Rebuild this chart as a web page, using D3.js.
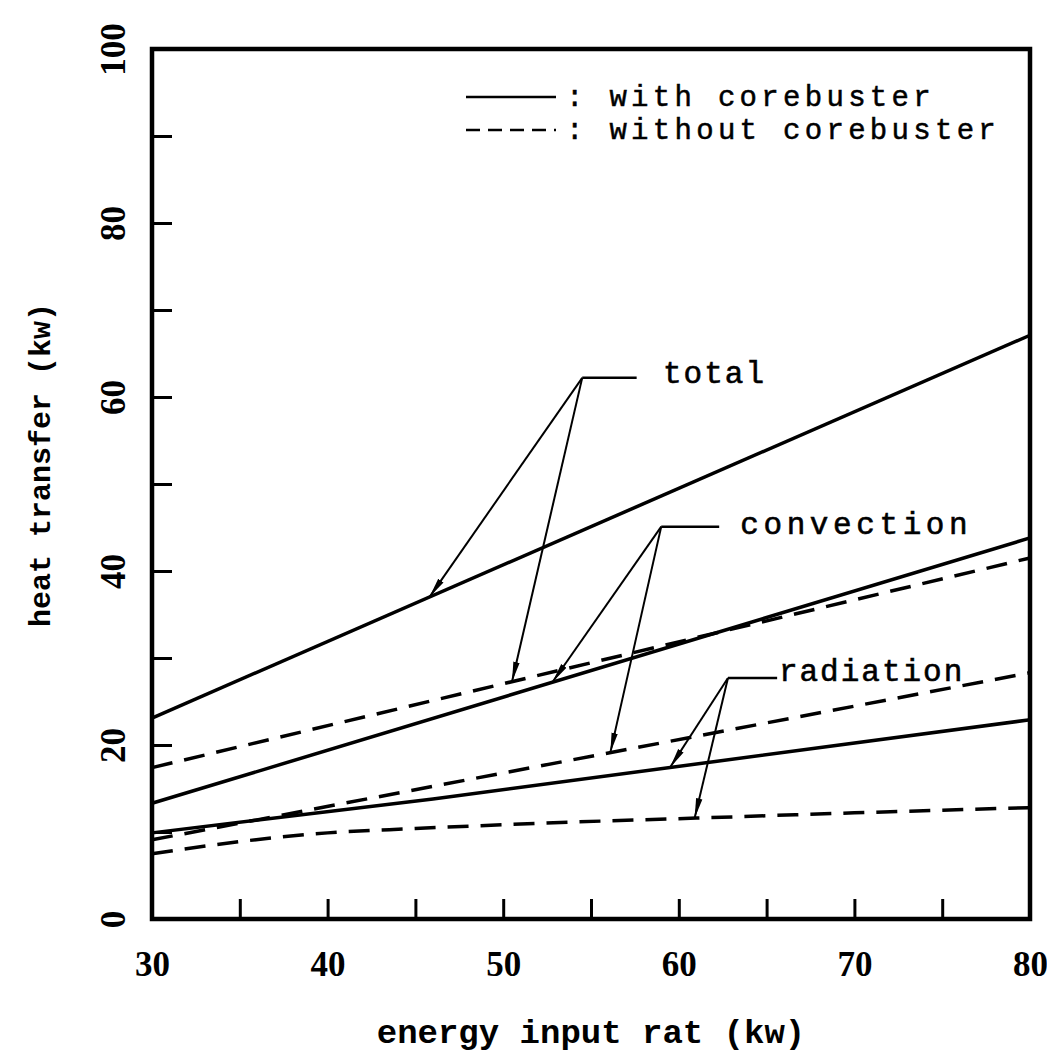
<!DOCTYPE html>
<html>
<head>
<meta charset="utf-8">
<script src="https://cdn.jsdelivr.net/npm/d3@7"></script>
<style>
  body { margin: 0; background: #fff; }
  text { fill: #000; }
</style>
</head>
<body>
<div id="chart"></div>
<script>
// Axis ticks and labels
const xTicks = [30, 35, 40, 45, 50, 55, 60, 65, 70, 75, 80];
const xLabels = [30, 40, 50, 60, 70, 80];
const yTicks = [0, 10, 20, 30, 40, 50, 60, 70, 80, 90, 100];
const yLabels = [0, 20, 40, 60, 80, 100];

// Series values: [energy input, heat transfer]
const totalWith = [[30, 23.1], [80, 67.1]];
const totalWithout = [[30, 17.4], [80, 41.5]];
const convWith = [[30, 13.3], [80, 43.8]];
const convWithout = [[30, 9.1], [80, 28.3]];
const radWith = [[30, 9.9], [46, 13.8], [80, 22.9]];
const radWithout = [[30, 7.5], [35, 8.9], [40, 9.9], [45, 10.4], [52, 11.0], [61, 11.6], [70, 12.2], [80, 12.8]];

const series = [
  {name: "total with", values: totalWith, dashed: false},
  {name: "total without", values: totalWithout, dashed: true},
  {name: "convection with", values: convWith, dashed: false},
  {name: "convection without", values: convWithout, dashed: true},
  {name: "radiation with", values: radWith, dashed: false},
  {name: "radiation without", values: radWithout, dashed: true}
];

// Callouts: label, knee point, end of leader, and the x where each arrow lands
const callouts = [
  {label: "total", knee: [54.5, 62.2], leaderEnd: 57.6, textX: 59.1, textY: 61.6, spacing: 2,
   targets: [{s: totalWith, x: 45.8}, {s: totalWithout, x: 50.5}]},
  {label: "convection", knee: [59.0, 45.1], leaderEnd: 62.3, textX: 63.5, textY: 44.2, spacing: 4.6,
   targets: [{s: convWith, x: 52.8}, {s: convWithout, x: 56.1}]},
  {label: "radiation", knee: [62.8, 27.7], leaderEnd: 65.6, textX: 65.7, textY: 27.4, spacing: 2,
   targets: [{s: radWith, x: 59.5}, {s: radWithout, x: 60.9}]}
];

const margin = {top: 49, right: 17, bottom: 138, left: 152};
const W = 1047, H = 1057;
const width = W - margin.left - margin.right;
const height = H - margin.top - margin.bottom;

const svg = d3.select("#chart")
  .append("svg")
  .attr("width", W)
  .attr("height", H);

const g = svg.append("g")
  .attr("transform", `translate(${margin.left},${margin.top})`);

const x = d3.scaleLinear().domain([30, 80]).range([0, width]);
const y = d3.scaleLinear().domain([0, 100]).range([height, 0]);

const numFont = "'Liberation Serif', 'DejaVu Serif', serif";
const monoFont = "'Liberation Mono', 'DejaVu Sans Mono', monospace";

// Arrow marker
svg.append("defs").append("marker")
  .attr("id", "arrow")
  .attr("viewBox", "0 -4 20 8")
  .attr("refX", 20)
  .attr("refY", 0)
  .attr("markerWidth", 20)
  .attr("markerHeight", 8)
  .attr("markerUnits", "userSpaceOnUse")
  .attr("orient", "auto")
  .append("path")
  .attr("d", "M0,-3.2L20,0L0,3.2Z")
  .attr("fill", "#000");

// X axis (ticks point inward)
const xAxis = d3.axisBottom(x)
  .tickValues(xTicks)
  .tickSizeInner(-20)
  .tickSizeOuter(0)
  .tickPadding(32)
  .tickFormat(d => xLabels.includes(d) ? d : "");

const gx = g.append("g")
  .attr("transform", `translate(0,${height})`)
  .call(xAxis);
gx.select(".domain").remove();
gx.selectAll(".tick line").attr("stroke", "#000").attr("stroke-width", 3);
gx.selectAll(".tick text")
  .attr("font-family", numFont)
  .attr("font-weight", "bold")
  .attr("font-size", 35)
  .attr("fill", "#000");

// Y axis with rotated labels
const yAxis = d3.axisLeft(y)
  .tickValues(yTicks)
  .tickSizeInner(-20)
  .tickSizeOuter(0)
  .tickFormat(d => yLabels.includes(d) ? d : "");

const gy = g.append("g").call(yAxis);
gy.select(".domain").remove();
gy.selectAll(".tick line").attr("stroke", "#000").attr("stroke-width", 3);
gy.selectAll(".tick text")
  .attr("transform", "rotate(-90)")
  .attr("x", 0)
  .attr("y", -27)
  .attr("dy", 0)
  .attr("text-anchor", "middle")
  .attr("font-family", numFont)
  .attr("font-weight", "bold")
  .attr("font-size", 35)
  .attr("fill", "#000");

// Frame
g.append("rect")
  .attr("width", width)
  .attr("height", height)
  .attr("fill", "none")
  .attr("stroke", "#000")
  .attr("stroke-width", 4.5);

// Axis titles
svg.append("text")
  .attr("x", margin.left + width / 2)
  .attr("y", 1043)
  .attr("text-anchor", "middle")
  .attr("font-family", monoFont)
  .attr("font-weight", "bold")
  .attr("font-size", 34)
  .text("energy input rat (kw)");

svg.append("text")
  .attr("transform", "translate(50,465) rotate(-90)")
  .attr("text-anchor", "middle")
  .attr("font-family", monoFont)
  .attr("font-weight", "bold")
  .attr("font-size", 30)
  .text("heat transfer (kw)");

// Lines
const line = d3.line()
  .x(d => x(d[0]))
  .y(d => y(d[1]))
  .curve(d3.curveMonotoneX);

series.forEach(s => {
  g.append("path")
    .datum(s.values)
    .attr("fill", "none")
    .attr("stroke", "#000")
    .attr("stroke-width", 3.5)
    .attr("stroke-dasharray", s.dashed ? "21,12" : null)
    .attr("d", line);
});

// Value on a series at a given x (linear between read points)
function valueAt(values, xv) {
  const i = Math.max(1, d3.bisector(d => d[0]).left(values, xv));
  const a = values[i - 1], b = values[Math.min(i, values.length - 1)];
  if (a[0] === b[0]) return a[1];
  return a[1] + (b[1] - a[1]) * (xv - a[0]) / (b[0] - a[0]);
}

// Callouts
callouts.forEach(c => {
  const kx = x(c.knee[0]), ky = y(c.knee[1]);
  g.append("line")
    .attr("x1", kx).attr("y1", ky)
    .attr("x2", x(c.leaderEnd)).attr("y2", ky)
    .attr("stroke", "#000")
    .attr("stroke-width", 2.5);
  c.targets.forEach(t => {
    g.append("line")
      .attr("x1", kx).attr("y1", ky)
      .attr("x2", x(t.x)).attr("y2", y(valueAt(t.s, t.x)))
      .attr("stroke", "#000")
      .attr("stroke-width", 2)
      .attr("marker-end", "url(#arrow)");
  });
  g.append("text")
    .attr("x", x(c.textX))
    .attr("y", y(c.textY))
    .attr("font-family", monoFont)
    .attr("font-size", 31)
    .attr("letter-spacing", c.spacing)
    .attr("stroke", "#000")
    .attr("stroke-width", 0.6)
    .text(c.label);
});

// Legend
const legend = [
  {label: ": with corebuster", dashed: false, y: 97, ty: 106},
  {label: ": without corebuster", dashed: true, y: 130, ty: 139}
];
legend.forEach(l => {
  svg.append("line")
    .attr("x1", 466).attr("x2", 556)
    .attr("y1", l.y).attr("y2", l.y)
    .attr("stroke", "#000")
    .attr("stroke-width", 2.5)
    .attr("stroke-dasharray", l.dashed ? "14,8" : null);
  svg.append("text")
    .attr("x", 566)
    .attr("y", l.ty)
    .attr("font-family", monoFont)
    .attr("font-size", 29)
    .attr("letter-spacing", 4.3)
    .attr("stroke", "#000")
    .attr("stroke-width", 0.5)
    .text(l.label);
});
</script>
</body>
</html>
